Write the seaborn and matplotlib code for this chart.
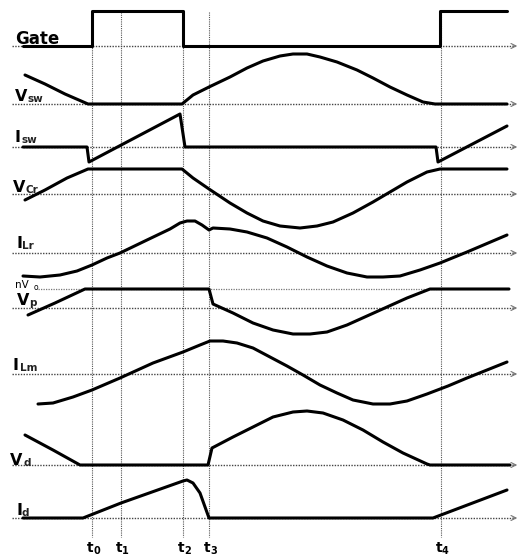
import numpy as np
import pandas as pd
import matplotlib.pyplot as plt
import seaborn as sns

sns.set_style("white")
plt.rcParams['font.family'] = ['DejaVu Sans']
plt.rcParams['text.color'] = 'black'

# switching instants (time axis, same units as the traces)
t_marks = [92, 121, 183, 209, 441]
t_names = ["0", "1", "2", "3", "4"]

# each trace: time points and level above its own zero line
gate_t = [23, 92, 92, 183, 183, 440, 440, 507]
gate_v = [0, 0, 35, 35, 0, 0, 35, 35]

vsw_t = [25, 45, 65, 88, 182, 193, 209, 230, 247, 263, 280, 293, 307, 320, 337,
         357, 373, 390, 407, 423, 435, 507]
vsw_v = [29, 20, 10, 0, 0, 9, 17, 27, 36, 43, 48, 50, 50, 47, 42,
         34, 26, 17, 9, 2, 0, 0]

isw_t = [23, 87, 89, 180, 185, 436, 438, 507]
isw_v = [0, 0, -15, 33, 0, 0, -15, 21]

vcr_t = [25, 45, 67, 88, 182, 193, 209, 230, 247, 263, 280, 300, 317, 333, 353,
         373, 390, 407, 427, 440, 507]
vcr_v = [-6, 4, 16, 25, 25, 16, 5, -9, -19, -27, -32, -34, -32, -28, -19,
         -8, 2, 12, 22, 25, 25]

ilr_t = [23, 40, 60, 77, 92, 107, 120, 147, 170, 180, 187, 195, 202, 209, 213,
         230, 247, 267, 287, 307, 327, 347, 367, 383, 400, 420, 440, 467, 507]
ilr_v = [-23, -24, -22, -18, -12, -5, 0, 13, 24, 30, 32, 32, 28, 23, 25,
         24, 21, 15, 6, -4, -13, -20, -24, -24, -23, -17, -10, 1, 18]

vp_t = [28, 55, 85, 209, 213, 233, 253, 273, 293, 310, 327, 347, 367, 387, 407,
        430, 509]
vp_v = [-7, 5, 19, 19, 4, -5, -15, -22, -26, -26, -24, -17, -8, 1, 10,
        19, 19]

ilm_t = [38, 53, 73, 92, 120, 153, 183, 200, 210, 223, 237, 253, 270, 287, 303,
         320, 337, 353, 373, 390, 407, 427, 448, 467, 507]
ilm_v = [-30, -29, -23, -16, -4, 11, 22, 29, 33, 33, 31, 26, 17, 8, -1,
         -11, -19, -26, -30, -30, -27, -20, -12, -4, 12]

vd_t = [25, 53, 80, 208, 212, 233, 253, 273, 293, 307, 323, 343, 363, 383, 403,
        427, 430, 510]
vd_v = [30, 15, 0, 0, 17, 28, 38, 48, 53, 54, 52, 45, 35, 23, 12,
        1, 0, 0]

id_t = [23, 83, 121, 183, 187, 193, 200, 209, 433, 507]
id_v = [0, 0, 15, 37, 38, 35, 25, 0, 0, 28]

traces = [
    ("gate", gate_t, gate_v),
    ("vsw", vsw_t, vsw_v),
    ("isw", isw_t, isw_v),
    ("vcr", vcr_t, vcr_v),
    ("ilr", ilr_t, ilr_v),
    ("vp", vp_t, vp_v),
    ("ilm", ilm_t, ilm_v),
    ("vd", vd_t, vd_v),
    ("id", id_t, id_v),
]

# zero line of every trace, measured down from the top of the figure
zero_line = {"gate": 46, "vsw": 104, "isw": 147, "vcr": 194, "ilr": 253,
             "vp": 308, "ilm": 374, "vd": 465, "id": 518}
nvo_line = 289

fig = plt.figure(figsize=(5.22, 5.57), dpi=100)
ax = fig.add_axes([0, 0, 1, 1])
ax.set_xlim(0, 522)
ax.set_ylim(557, 0)
ax.axis('off')

dot = (0, (1, 1))

# vertical markers for the switching instants
for tm in t_marks:
    ax.plot([tm, tm], [12, 537], color='#555555', lw=0.8, ls=dot, zorder=1)

# zero lines with open arrow heads
for name, y0 in zero_line.items():
    ax.plot([12, 515], [y0, y0], color='#444444', lw=1.0, ls=dot, zorder=1)
    ax.annotate("", xy=(520, y0), xytext=(510, y0),
                arrowprops=dict(arrowstyle='->', color='#777777', lw=0.8,
                                mutation_scale=9))
ax.plot([38, 440], [nvo_line, nvo_line], color='#777777', lw=0.9, ls=dot, zorder=1)

# waveforms
for name, tt, vv in traces:
    df = pd.DataFrame({"t": tt, "y": [zero_line[name] - v for v in vv]})
    sns.lineplot(data=df, x="t", y="y", ax=ax, estimator=None, sort=False,
                 color='black', linewidth=2.2, zorder=3)

# signal names
ax.text(15, 44, "Gate", fontsize=12, fontweight='bold', va='baseline', color='black')

labels = [
    ("V", "sw", 15, 27, 101),
    ("I", "sw", 15, 21, 142),
    ("V", "Cr", 13, 26, 192),
    ("I", "Lr", 16, 22, 248),
    ("V", "p", 17, 29, 305),
    ("I", "Lm", 13, 20, 370),
    ("V", "d", 10, 24, 465),
    ("I", "d", 16, 22, 515),
]
for main, sub, x_main, x_sub, yb in labels:
    ax.text(x_main, yb, main, fontsize=11.5, fontweight='bold', va='baseline',
            color='black')
    ax.text(x_sub, yb + 1, sub, fontsize=7.5, fontweight='bold', va='baseline',
            color='#222222')

ax.text(15, 288, "nV", fontsize=7.5, va='baseline', color='black')
ax.text(34, 290, "o", fontsize=5.5, va='baseline', color='black')

# time instants under the plot
for tm, nm in zip(t_marks, t_names):
    ax.text(tm - 5, 552, "t", fontsize=10, fontweight='bold', va='baseline',
            color='black')
    ax.text(tm + 1, 554, nm, fontsize=7, fontweight='bold', va='baseline',
            color='black')

fig.savefig("out.png", dpi=100)
